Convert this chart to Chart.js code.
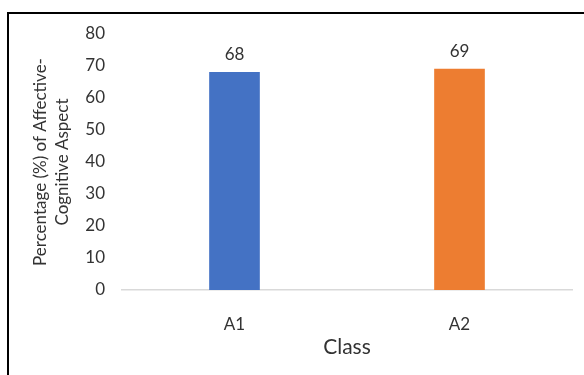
<!DOCTYPE html>
<html>
<head>
<meta charset="utf-8">
<script src="https://cdn.jsdelivr.net/npm/chart.js@4/dist/chart.umd.min.js"></script>
<style>
    body { margin: 0; background: #fff; }
    #wrap { position: relative; width: 584px; height: 375px; }
    #frame {
        position: absolute; left: 7px; top: 12px; right: 0; bottom: 0;
        border-top: 2px solid #000; border-left: 2px solid #000;
        pointer-events: none;
    }
    canvas { position: absolute; left: 0; top: 0; }
</style>
</head>
<body>
<div id="wrap">
    <canvas id="bar-chart-class" width="584" height="375"></canvas>
    <div id="frame"></div>
</div>
<script>
const labels = ["A1", "A2"];
const values = [68, 69];
const backgroundColor = ["#4472C4", "#ED7D31"];
const yTitle = ["Percentage (%) of Affective-", "Cognitive Aspect"];
const xTitle = "Class";
const textColor = "#333333";

// value labels above the bars
const barValues = {
    id: "barValues",
    afterDatasetsDraw(chart) {
        const ctx = chart.ctx;
        ctx.save();
        ctx.font = "17px Lato";
        ctx.fillStyle = textColor;
        ctx.textAlign = "center";
        ctx.textBaseline = "middle";
        chart.getDatasetMeta(0).data.forEach(function (bar, i) {
            ctx.fillText(values[i], bar.x, bar.y - 18);
        });
        ctx.restore();
    },
};

const option = {
    responsive: false,
    animation: false,
    layout: {
        padding: { top: 34, right: 12, bottom: 0, left: 0 },
    },
    plugins: {
        legend: { display: false },
        tooltip: { enabled: false },
    },
    scales: {
        x: {
            grid: { display: false },
            border: { color: "#d9d9d9", width: 1.5 },
            ticks: {
                color: textColor,
                padding: 16,
                font: { family: "Lato", size: 17 },
            },
            title: {
                display: true,
                text: xTitle,
                color: textColor,
                font: { family: "Lato", size: 21 },
                padding: { top: 0, bottom: 15 },
            },
            afterFit: function (scale) {
                scale.height = 85;
            },
        },
        y: {
            min: 0,
            max: 80,
            grid: { display: false, drawTicks: false },
            border: { display: false },
            ticks: {
                stepSize: 10,
                color: textColor,
                padding: 17,
                font: { family: "Lato", size: 17 },
            },
            title: {
                display: true,
                text: yTitle,
                color: textColor,
                font: { family: "Lato", size: 17, lineHeight: 1.3 },
                padding: { top: 29, bottom: 0 },
            },
            afterFit: function (scale) {
                scale.width = 122;
            },
        },
    },
};

new Chart(document.getElementById("bar-chart-class").getContext("2d"), {
    type: "bar",
    data: {
        labels: labels,
        datasets: [
            {
                data: values,
                backgroundColor: backgroundColor,
                borderWidth: 0,
                barThickness: 50,
            },
        ],
    },
    options: option,
    plugins: [barValues],
});
</script>
</body>
</html>
